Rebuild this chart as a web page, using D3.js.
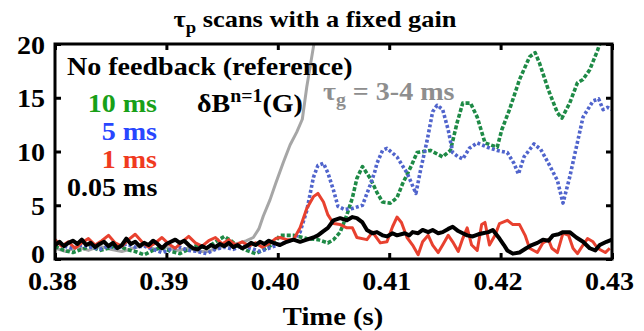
<!DOCTYPE html>
<html><head><meta charset="utf-8">
<script src="https://cdn.jsdelivr.net/npm/d3@7"></script>
<style>
html,body{margin:0;padding:0;background:#fff;}
</style></head>
<body>
<svg id="c" width="644" height="331"></svg>
<script>
// ---- data ----
const xTicks = [0.38, 0.39, 0.40, 0.41, 0.42, 0.43];
const xTickLabels = ["0.38", "0.39", "0.40", "0.41", "0.42", "0.43"];
const yTicks = [0, 5, 10, 15, 20];
const yTickLabels = ["0", "5", "10", "15", "20"];

const legendLabels = ["10 ms", "5 ms", "1 ms", "0.05 ms"];

const noFeedback = [[0.3800,1.0],[0.3810,0.7],[0.3820,1.1],[0.3830,0.8],[0.3840,1.2],[0.3850,0.9],[0.3860,0.7],[0.3870,1.0],[0.3880,1.3],[0.3890,0.9],[0.3900,1.1],[0.3910,0.8],[0.3920,1.0],[0.3930,0.7],[0.3937,0.7],[0.3945,1.0],[0.3953,1.2],[0.3961,1.4],[0.3966,1.5],[0.3972,1.7],[0.3978,2.0],[0.3983,2.8],[0.3987,4.0],[0.3993,5.5],[0.3998,7.0],[0.4005,9.0],[0.4011,10.6],[0.4017,11.8],[0.4022,13.0],[0.4026,16.0],[0.4030,18.5],[0.4034,21.0]];

const tau10 = [[0.3800,1.2],[0.3808,0.8],[0.3816,0.6],[0.3824,0.9],[0.3832,1.2],[0.3840,0.8],[0.3848,1.0],[0.3856,1.3],[0.3864,0.9],[0.3872,0.7],[0.3880,0.4],[0.3888,0.8],[0.3896,1.1],[0.3904,0.7],[0.3912,0.5],[0.3920,0.9],[0.3928,1.3],[0.3936,1.0],[0.3944,1.6],[0.3952,2.1],[0.3958,1.7],[0.3964,1.2],[0.3972,0.8],[0.3980,0.5],[0.3988,0.9],[0.3996,1.4],[0.4002,2.2],[0.4014,2.2],[0.4026,1.9],[0.4036,1.8],[0.4045,1.5],[0.4050,1.8],[0.4056,2.5],[0.4062,4.1],[0.4067,5.7],[0.4071,7.5],[0.4076,8.6],[0.4083,7.5],[0.4089,6.2],[0.4094,5.3],[0.4101,5.2],[0.4107,5.7],[0.4112,7.0],[0.4120,8.7],[0.4125,9.9],[0.4137,10.1],[0.4148,9.5],[0.4155,10.1],[0.4161,12.7],[0.4166,14.5],[0.4173,14.5],[0.4179,13.2],[0.4186,10.8],[0.4197,10.4],[0.4201,12.0],[0.4208,13.9],[0.4217,16.7],[0.4226,18.8],[0.4231,19.2],[0.4235,18.2],[0.4243,15.7],[0.4251,13.6],[0.4255,13.1],[0.4262,14.5],[0.4269,16.4],[0.4274,16.7],[0.4280,17.6],[0.4287,19.4],[0.4290,20.3]];

const tau5 = [[0.3800,1.6],[0.3808,1.2],[0.3816,1.0],[0.3824,1.3],[0.3832,1.1],[0.3840,0.9],[0.3848,1.2],[0.3856,1.0],[0.3864,1.4],[0.3872,1.1],[0.3880,1.2],[0.3888,0.9],[0.3896,0.6],[0.3904,0.9],[0.3912,1.1],[0.3920,0.8],[0.3928,0.7],[0.3936,0.5],[0.3944,0.9],[0.3952,1.1],[0.3960,0.9],[0.3968,1.2],[0.3976,1.0],[0.3984,0.7],[0.3992,1.0],[0.4000,1.3],[0.4008,1.6],[0.4014,1.8],[0.4020,2.5],[0.4026,4.5],[0.4032,7.6],[0.4036,8.7],[0.4041,8.9],[0.4045,8.0],[0.4050,6.4],[0.4054,4.9],[0.4060,4.6],[0.4067,4.7],[0.4076,5.0],[0.4083,6.9],[0.4087,8.1],[0.4089,8.9],[0.4094,10.1],[0.4098,10.3],[0.4107,9.5],[0.4116,8.0],[0.4124,6.1],[0.4128,8.2],[0.4134,11.0],[0.4139,13.7],[0.4143,14.3],[0.4148,13.9],[0.4153,12.0],[0.4157,9.9],[0.4162,9.5],[0.4166,9.3],[0.4172,10.3],[0.4179,10.8],[0.4188,10.4],[0.4197,10.1],[0.4206,9.9],[0.4212,8.9],[0.4216,7.9],[0.4221,9.5],[0.4230,10.7],[0.4236,10.2],[0.4243,8.9],[0.4251,7.3],[0.4256,5.2],[0.4262,7.6],[0.4268,10.4],[0.4274,13.2],[0.4283,14.7],[0.4288,14.9],[0.4292,13.9],[0.4296,14.1],[0.4300,13.9]];

const tau1 = [[0.3800,1.8],[0.3806,1.2],[0.3812,1.6],[0.3818,1.0],[0.3824,1.5],[0.3830,1.9],[0.3836,1.3],[0.3842,1.7],[0.3848,2.2],[0.3854,1.5],[0.3860,1.2],[0.3866,1.8],[0.3872,2.3],[0.3878,1.6],[0.3884,1.1],[0.3890,1.5],[0.3896,2.0],[0.3902,1.4],[0.3908,1.0],[0.3914,1.6],[0.3920,2.1],[0.3926,1.5],[0.3932,1.2],[0.3938,1.7],[0.3944,2.0],[0.3950,1.4],[0.3956,1.8],[0.3962,1.3],[0.3968,1.6],[0.3974,1.2],[0.3980,1.5],[0.3986,1.1],[0.3992,1.4],[0.3998,1.9],[0.4002,2.0],[0.4008,1.8],[0.4014,1.8],[0.4020,2.9],[0.4026,4.7],[0.4032,5.8],[0.4036,6.1],[0.4041,5.3],[0.4045,4.1],[0.4050,3.3],[0.4056,3.2],[0.4062,2.9],[0.4067,2.9],[0.4071,2.0],[0.4080,1.8],[0.4085,2.5],[0.4092,1.5],[0.4098,1.6],[0.4103,3.0],[0.4107,3.9],[0.4111,3.4],[0.4116,2.0],[0.4121,1.3],[0.4126,0.4],[0.4130,1.6],[0.4135,2.2],[0.4139,1.3],[0.4144,0.6],[0.4148,1.3],[0.4153,2.2],[0.4157,1.6],[0.4162,0.7],[0.4166,1.9],[0.4170,2.9],[0.4174,1.3],[0.4179,0.8],[0.4183,3.2],[0.4186,3.4],[0.4190,1.3],[0.4195,2.2],[0.4199,3.3],[0.4206,3.6],[0.4211,3.2],[0.4217,3.2],[0.4222,2.2],[0.4226,1.0],[0.4233,0.6],[0.4238,1.5],[0.4243,1.8],[0.4246,1.0],[0.4251,0.6],[0.4256,2.4],[0.4261,2.2],[0.4265,1.0],[0.4269,0.5],[0.4274,1.3],[0.4278,1.9],[0.4283,1.6],[0.4287,1.0],[0.4294,0.6],[0.4298,1.0]];

const tau005 = [[0.3800,1.3],[0.3804,1.6],[0.3808,1.2],[0.3812,1.5],[0.3816,1.7],[0.3820,1.4],[0.3824,1.8],[0.3828,1.3],[0.3832,1.5],[0.3836,1.1],[0.3840,1.4],[0.3844,1.6],[0.3848,1.2],[0.3852,1.5],[0.3856,1.0],[0.3860,1.3],[0.3864,1.9],[0.3868,1.4],[0.3872,1.6],[0.3876,1.2],[0.3880,1.5],[0.3884,1.3],[0.3888,1.7],[0.3892,1.4],[0.3896,1.0],[0.3900,1.4],[0.3904,1.6],[0.3908,1.8],[0.3912,1.5],[0.3916,1.7],[0.3920,1.3],[0.3924,1.0],[0.3928,0.9],[0.3932,1.2],[0.3936,1.0],[0.3940,1.3],[0.3944,1.1],[0.3948,1.4],[0.3952,1.2],[0.3956,1.5],[0.3960,1.1],[0.3964,1.3],[0.3968,1.0],[0.3972,1.2],[0.3976,1.5],[0.3980,1.3],[0.3984,1.6],[0.3988,1.4],[0.3992,1.7],[0.3996,1.5],[0.4002,1.3],[0.4008,1.6],[0.4014,1.8],[0.4020,1.6],[0.4026,1.8],[0.4032,2.0],[0.4036,2.2],[0.4041,2.6],[0.4045,2.9],[0.4050,3.6],[0.4056,3.8],[0.4062,3.6],[0.4067,3.9],[0.4071,3.8],[0.4076,3.4],[0.4080,2.7],[0.4085,2.4],[0.4089,2.5],[0.4094,2.2],[0.4098,2.1],[0.4103,2.4],[0.4107,2.2],[0.4114,2.4],[0.4118,2.2],[0.4121,2.5],[0.4126,2.4],[0.4130,2.7],[0.4135,2.5],[0.4139,2.7],[0.4144,2.4],[0.4148,2.5],[0.4153,2.8],[0.4157,3.0],[0.4162,2.6],[0.4166,2.4],[0.4170,2.2],[0.4175,2.1],[0.4180,2.3],[0.4184,2.4],[0.4189,2.5],[0.4193,2.7],[0.4196,2.3],[0.4199,1.9],[0.4203,1.3],[0.4206,0.8],[0.4211,0.5],[0.4217,0.6],[0.4223,1.0],[0.4228,1.3],[0.4233,1.5],[0.4238,1.8],[0.4243,1.7],[0.4247,2.2],[0.4252,2.3],[0.4256,2.5],[0.4262,2.5],[0.4268,2.0],[0.4274,1.6],[0.4280,1.0],[0.4285,0.8],[0.4289,1.3],[0.4295,1.6],[0.4300,1.8]];

// ---- chart ----
const FONT = "Liberation Serif";
const svg = d3.select("#c");
const x = d3.scaleLinear().domain([0.38, 0.43]).range([55, 612]);
const y = d3.scaleLinear().domain([0, 20]).range([259, 44]);
const SX = 1.1; // horizontal glyph stretch

svg.append("clipPath").attr("id", "clip").append("rect")
  .attr("x", x(0.38)).attr("y", y(20)).attr("width", x(0.43) - x(0.38)).attr("height", y(0) - y(20));

const line = d3.line().x(d => x(d[0])).y(d => y(d[1]));
const plot = svg.append("g").attr("clip-path", "url(#clip)");
const series = [
  {data: noFeedback, color: "#a6a6a6", w: 3, dash: null},
  {data: tau10, color: "#1e8a46", w: 3.6, dash: "4,2"},
  {data: tau5, color: "#5064cc", w: 3.6, dash: "3,2.2"},
  {data: tau1, color: "#e8412f", w: 3, dash: null},
  {data: tau005, color: "#000000", w: 4, dash: null}
];
series.forEach(s => {
  plot.append("path").attr("d", line(s.data)).attr("fill", "none")
    .attr("stroke", s.color).attr("stroke-width", s.w)
    .attr("stroke-linejoin", "round")
    .attr("stroke-dasharray", s.dash);
});

// axes
const gx = svg.append("g").attr("transform", `translate(0,${y(0)})`)
  .call(d3.axisBottom(x).tickValues(xTicks).tickFormat((d, i) => xTickLabels[i]).tickSizeInner(-6).tickSizeOuter(0))
  .attr("font-family", FONT);
gx.selectAll(".tick line").attr("stroke-width", 3);
gx.selectAll(".tick text").attr("y", null).attr("dy", null)
  .attr("transform", `translate(-3,31) scale(${SX},1)`)
  .attr("font-size", 25.5).attr("font-family", FONT).attr("font-weight", "bold").attr("fill", "#000");
gx.select(".domain").remove();

const gt = svg.append("g").attr("transform", `translate(0,${y(20)})`)
  .call(d3.axisTop(x).tickValues(xTicks).tickFormat("").tickSizeInner(-6).tickSizeOuter(0));
gt.selectAll(".tick line").attr("stroke-width", 3);
gt.select(".domain").remove();

const gy = svg.append("g").attr("transform", `translate(${x(0.38)},0)`)
  .call(d3.axisLeft(y).tickValues(yTicks).tickFormat((d, i) => yTickLabels[i]).tickSizeInner(-6).tickSizeOuter(0))
  .attr("font-family", FONT);
gy.selectAll(".tick line").attr("stroke-width", 3);
gy.selectAll(".tick text").attr("x", null).attr("dy", null)
  .attr("transform", d => `translate(-10,${d === 0 ? 3 : 9}) scale(${SX},1)`)
  .attr("font-size", 25.5).attr("font-family", FONT).attr("font-weight", "bold").attr("fill", "#000");
gy.select(".domain").remove();

const gr = svg.append("g").attr("transform", `translate(${x(0.43)},0)`)
  .call(d3.axisRight(y).tickValues(yTicks).tickFormat("").tickSizeInner(-6).tickSizeOuter(0));
gr.selectAll(".tick line").attr("stroke-width", 3);
gr.select(".domain").remove();

svg.append("rect").attr("x", x(0.38)).attr("y", y(20))
  .attr("width", x(0.43) - x(0.38)).attr("height", y(0) - y(20))
  .attr("fill", "none").attr("stroke", "#000").attr("stroke-width", 3);

// text helper
function label(px, py, anchor, size, color) {
  const g = svg.append("g").attr("transform", `translate(${px},${py}) scale(${SX},1)`);
  return g.append("text").attr("text-anchor", anchor).attr("font-size", size).attr("fill", color)
    .attr("font-family", FONT).attr("font-weight", "bold");
}

// title
const t = label(315, 27, "middle", 24, "#000");
t.append("tspan").text("τ");
t.append("tspan").attr("font-size", 17).attr("dy", 6).text("p");
t.append("tspan").attr("dy", -6).text(" scans with a fixed gain");

// x label
label(333, 325, "middle", 26, "#000").text("Time (s)");

// legend
label(67, 75, "start", 25.5, "#000").text("No feedback (reference)");
const legColors = ["#18a018", "#2846ff", "#f03a1e", "#000000"];
const legY = [112, 140, 168, 196];
legendLabels.forEach((s, i) => {
  if (i < 3) label(157, legY[i], "end", 25.5, legColors[i]).text(s);
  else label(67, legY[i], "start", 25.5, legColors[i]).text(s);
});

const db = label(197, 112, "start", 25.5, "#000");
db.append("tspan").text("δB");
db.append("tspan").attr("font-size", 18).attr("dy", -10).text("n=1");
db.append("tspan").attr("dy", 10).text("(G)");

const tg = label(323, 100, "start", 25.5, "#8e8e8e");
tg.append("tspan").text("τ");
tg.append("tspan").attr("font-size", 18).attr("dy", 6).text("g");
tg.append("tspan").attr("dy", -6).text(" = 3-4 ms");
</script>
</body></html>
